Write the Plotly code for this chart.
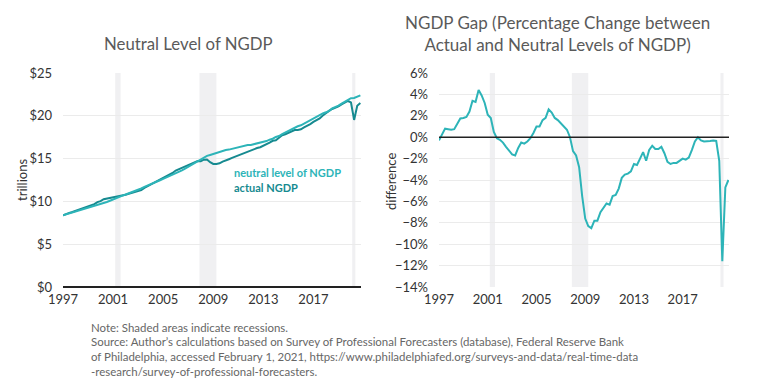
import plotly.graph_objects as go

# ---------------- data (quarterly, 1997Q1 .. 2020Q4) ----------------
start_year = 1997
n_quarters = 96
quarters = [start_year + i / 4 for i in range(n_quarters)]

actual_ngdp = [
    8.36, 8.53, 8.66, 8.77,
    8.89, 8.99, 9.11, 9.25,
    9.41, 9.53, 9.68, 9.91,
    10.03, 10.25, 10.32, 10.40,
    10.47, 10.60, 10.60, 10.66,
    10.78, 10.89, 10.99, 11.07,
    11.17, 11.31, 11.57, 11.77,
    11.92, 12.12, 12.30, 12.52,
    12.76, 12.92, 13.16, 13.32,
    13.60, 13.75, 13.87, 14.04,
    14.22, 14.40, 14.56, 14.72,
    14.70, 14.88, 14.89, 14.58,
    14.38, 14.38, 14.45, 14.65,
    14.76, 14.93, 15.08, 15.23,
    15.31, 15.48, 15.59, 15.78,
    15.97, 16.12, 16.23, 16.33,
    16.50, 16.61, 16.87, 17.08,
    17.14, 17.43, 17.72, 17.85,
    17.99, 18.22, 18.34, 18.35,
    18.42, 18.64, 18.80, 19.03,
    19.28, 19.44, 19.69, 20.03,
    20.33, 20.58, 20.80, 20.92,
    21.10, 21.34, 21.54, 21.73,
    21.56, 19.52, 21.17, 21.49,
]

neutral_ngdp = [
    8.39, 8.50, 8.59, 8.70,
    8.83, 8.92, 8.99, 9.09,
    9.24, 9.35, 9.45, 9.58,
    9.71, 9.82, 9.93, 10.08,
    10.25, 10.41, 10.55, 10.67,
    10.81, 10.94, 11.09, 11.22,
    11.35, 11.51, 11.69, 11.83,
    11.99, 12.17, 12.31, 12.47,
    12.63, 12.79, 12.95, 13.08,
    13.26, 13.44, 13.63, 13.82,
    14.04, 14.24, 14.46, 14.72,
    14.89, 15.14, 15.32, 15.43,
    15.56, 15.68, 15.79, 15.89,
    16.01, 16.05, 16.15, 16.24,
    16.34, 16.38, 16.48, 16.58,
    16.60, 16.70, 16.80, 16.87,
    16.92, 17.05, 17.21, 17.32,
    17.53, 17.64, 17.86, 18.05,
    18.19, 18.39, 18.62, 18.78,
    18.89, 19.10, 19.26, 19.46,
    19.67, 19.86, 20.07, 20.27,
    20.41, 20.58, 20.86, 21.00,
    21.18, 21.41, 21.60, 21.81,
    22.05, 22.08, 22.21, 22.39,
]

ngdp_gap_pct = [
    -0.3, 0.3, 0.8, 0.75,
    0.7, 0.75, 1.3, 1.75,
    1.8, 1.9, 2.4, 3.4,
    3.3, 4.4, 3.9, 3.2,
    2.1, 1.8, 0.5, -0.1,
    -0.25, -0.5, -0.9, -1.3,
    -1.6, -1.7, -1.0, -0.5,
    -0.6, -0.4, -0.1, 0.4,
    1.0, 1.0, 1.6, 1.8,
    2.6, 2.3, 1.8, 1.6,
    1.3, 1.1, 0.7, 0.0,
    -1.3, -1.7, -2.8, -5.5,
    -7.6, -8.3, -8.5, -7.8,
    -7.8, -7.0, -6.6, -6.2,
    -6.3, -5.5, -5.4, -4.8,
    -3.8, -3.5, -3.4, -3.2,
    -2.5, -2.6, -2.0, -1.4,
    -2.2, -1.2, -0.8, -1.1,
    -1.1, -0.9, -1.5, -2.3,
    -2.5, -2.4, -2.4, -2.2,
    -2.0, -2.1, -1.9, -1.2,
    -0.4, 0.0, -0.3, -0.4,
    -0.4, -0.35, -0.3, -0.35,
    -2.2, -11.6, -4.7, -4.0,
]

recessions = [(2001.17, 2001.6), (2007.9, 2009.25), (2020.1, 2020.35)]

year_ticks = [1997, 2001, 2005, 2009, 2013, 2017]
level_ticks = [0, 5, 10, 15, 20, 25]
level_tick_labels = ["$0", "$5", "$10", "$15", "$20", "$25"]
gap_ticks = [-14, -12, -10, -8, -6, -4, -2, 0, 2, 4, 6]
gap_tick_labels = ["\u221214%", "\u221212%", "\u221210%", "\u22128%", "\u22126%", "\u22124%",
                   "\u22122%", "0%", "2%", "4%", "6%"]

# ---------------- styling ----------------
FONT = "Lato"
TXT = "#333333"
GRID = "#ebebeb"
LIGHT_TEAL = "#2db4b8"
DARK_TEAL = "#168a90"
SHADE = "#f0f0f2"

W, H = 768, 391
y_dom = [1 - 287 / H, 1 - 73 / H]

fig = go.Figure()

fig.add_trace(go.Scatter(x=quarters, y=actual_ngdp, mode="lines",
                         line=dict(color=DARK_TEAL, width=2), xaxis="x", yaxis="y",
                         showlegend=False, name="actual NGDP"))
fig.add_trace(go.Scatter(x=quarters, y=neutral_ngdp, mode="lines",
                         line=dict(color=LIGHT_TEAL, width=2), xaxis="x", yaxis="y",
                         showlegend=False, name="neutral level of NGDP"))
fig.add_trace(go.Scatter(x=quarters, y=ngdp_gap_pct, mode="lines",
                         line=dict(color=LIGHT_TEAL, width=2), xaxis="x2", yaxis="y2",
                         showlegend=False, name="NGDP gap"))

shapes = []
for x0, x1 in recessions:
    for xr, yr in (("x", "y domain"), ("x2", "y2 domain")):
        shapes.append(dict(type="rect", xref=xr, yref=yr, x0=x0, x1=x1, y0=0, y1=1,
                           fillcolor=SHADE, line=dict(width=0), layer="below"))
# zero line on right chart
shapes.append(dict(type="line", xref="x2 domain", yref="y2", x0=0, x1=1, y0=0, y1=0,
                   line=dict(color="#222222", width=1.5)))

tickfont = dict(family=FONT, size=13, color=TXT)
xaxis_common = dict(range=[1997, 2020.8], tickvals=year_ticks, ticktext=[str(t) for t in year_ticks],
                    showgrid=False, zeroline=False, tickfont=tickfont, ticks="", fixedrange=True,
                    automargin=False, ticklabelstandoff=3)

annotations = [
    dict(text="Neutral Level of NGDP", x=188 / W, y=1 - 44 / H, xref="paper", yref="paper",
         showarrow=False, font=dict(family=FONT, size=16.8, color="#5a5a5a"),
         xanchor="center", yanchor="middle"),
    dict(text="NGDP Gap (Percentage Change between<br>Actual and Neutral Levels of NGDP)",
         x=557 / W, y=1 - 33 / H, xref="paper", yref="paper", showarrow=False,
         font=dict(family=FONT, size=17, color="#5a5a5a"), xanchor="center", yanchor="middle",
         align="center"),
    dict(text="<b>neutral level of NGDP</b>", x=232 / W, y=1 - 172 / H, xref="paper", yref="paper",
         showarrow=False, font=dict(family=FONT, size=11, color=LIGHT_TEAL),
         xanchor="left", yanchor="middle"),
    dict(text="<b>actual NGDP</b>", x=232 / W, y=1 - 187 / H, xref="paper", yref="paper",
         showarrow=False, font=dict(family=FONT, size=11, color=DARK_TEAL),
         xanchor="left", yanchor="middle"),
    dict(text="trillions", x=22 / W, y=1 - 180 / H, xref="paper", yref="paper", textangle=-90,
         showarrow=False, font=dict(family=FONT, size=13, color=TXT),
         xanchor="center", yanchor="middle"),
    dict(text="difference", x=391 / W, y=1 - 182 / H, xref="paper", yref="paper", textangle=-90,
         showarrow=False, font=dict(family=FONT, size=13, color=TXT),
         xanchor="center", yanchor="middle"),
]

notes = [
    "Note: Shaded areas indicate recessions.",
    "Source: Author\u2019s calculations based on Survey of Professional Forecasters (database), Federal Reserve Bank",
    "of Philadelphia, accessed February 1, 2021, https://www.philadelphiafed.org/surveys-and-data/real-time-data",
    "-research/survey-of-professional-forecasters.",
]
for k, line in enumerate(notes):
    annotations.append(dict(text=line, x=89 / W, y=1 - (327 + 14.7 * k) / H, xref="paper", yref="paper",
                            showarrow=False, font=dict(family=FONT, size=11.45, color="#666666"),
                            xanchor="left", yanchor="middle"))

fig.update_layout(
    width=W, height=H,
    margin=dict(l=0, r=0, t=0, b=0, pad=0, autoexpand=False),
    paper_bgcolor="white", plot_bgcolor="white",
    font=dict(family=FONT, color=TXT),
    hovermode=False,
    xaxis=dict(domain=[63 / W, 361 / W], anchor="y", showline=False, **xaxis_common),
    yaxis=dict(domain=y_dom, anchor="x", range=[0, 25], tickvals=level_ticks, ticktext=level_tick_labels,
               showgrid=True, gridcolor=GRID, gridwidth=1, zeroline=True, zerolinecolor="#222222",
               zerolinewidth=1.5, tickfont=tickfont, ticks="", ticklabelstandoff=10, fixedrange=True,
               automargin=False),
    xaxis2=dict(domain=[439 / W, 729 / W], anchor="y2", showline=False, **xaxis_common),
    yaxis2=dict(domain=y_dom, anchor="x2", range=[-14, 6], tickvals=gap_ticks, ticktext=gap_tick_labels,
                showgrid=True, gridcolor=GRID, gridwidth=1, zeroline=False, tickfont=tickfont,
                ticks="", ticklabelstandoff=10, fixedrange=True, automargin=False),
    shapes=shapes,
    annotations=annotations,
)

fig.write_html("out.html", config={"displayModeBar": False, "staticPlot": True},
               post_script="document.body.style.margin='0';document.body.style.overflow='hidden';")
